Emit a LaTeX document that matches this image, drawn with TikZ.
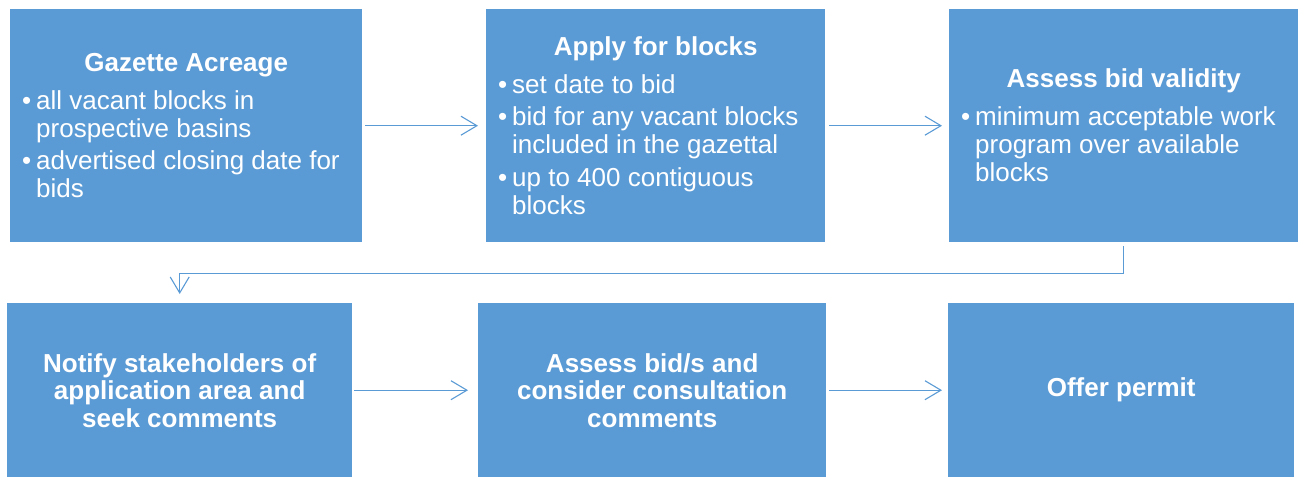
\documentclass[tikz,border=0pt]{standalone}
\usepackage{fontspec}
\setmainfont{Liberation Sans}
\usetikzlibrary{arrows.meta}
\definecolor{boxblue}{HTML}{5B9BD5}
\definecolor{arrowblue}{HTML}{5B9BD5}
\newcommand\bpoint[1]{\par\hangindent=14pt\hangafter=1\noindent\makebox[14pt][l]{•}#1}
\newcommand\boxcontent[3]{\parbox{#1}{\fontsize{26}{28}\selectfont\parskip=4.5pt
  \centering\textbf{#2}\par\vspace{5.5pt}\raggedright #3}}
\tikzset{
  box/.style={fill=boxblue, draw=none, inner sep=0pt, anchor=north west, text=white},
  ttl/.style={align=center, font=\fontsize{26}{27.5}\selectfont\bfseries},
  conn/.style={draw=arrowblue, line width=1.1pt, -{Straight Barb[length=16pt,width=19pt]}}
}
\begin{document}
\begin{tikzpicture}[x=1pt,y=-1pt]
\useasboundingbox (0,0) rectangle (1303,477);
% row 1
\node[box, minimum width=352pt, minimum height=233pt] (b1) at (10,9)
  {\boxcontent{328pt}{Gazette Acreage}{%
    \bpoint{all vacant blocks in\newline prospective basins}%
    \bpoint{advertised closing date for\newline bids}}};
\node[box, minimum width=339pt, minimum height=233pt] (b2) at (486,9)
  {\boxcontent{315pt}{Apply for blocks}{%
    \bpoint{set date to bid}%
    \bpoint{bid for any vacant blocks\newline included in the gazettal}%
    \bpoint{up to 400 contiguous\newline blocks}}};
\node[box, minimum width=349pt, minimum height=233pt] (b3) at (949,9)
  {\boxcontent{325pt}{Assess bid validity}{%
    \bpoint{minimum acceptable work\newline program over available\newline blocks}}};
% row 2
\node[box, ttl, minimum width=345pt, minimum height=174pt] (b4) at (7,303)
  {Notify stakeholders of\\application area and\\seek comments};
\node[box, ttl, minimum width=348pt, minimum height=174pt] (b5) at (478,303)
  {Assess bid/s and\\consider consultation\\comments};
\node[box, ttl, minimum width=346pt, minimum height=174pt] (b6) at (948,303)
  {Offer permit};
% connectors
\draw[conn, shorten <=3pt, shorten >=8pt] (b1.east) -- (b2.west);
\draw[conn, shorten <=4pt, shorten >=7pt] (b2.east) -- (b3.west);
\draw[conn, shorten <=4pt, shorten >=9pt] (b3.south) -- ++(0,31) -| (b4.north);
\draw[conn, shorten <=2pt, shorten >=10pt] (b4.east) -- (b5.west);
\draw[conn, shorten <=3pt, shorten >=6pt] (b5.east) -- (b6.west);
\end{tikzpicture}
\end{document}
